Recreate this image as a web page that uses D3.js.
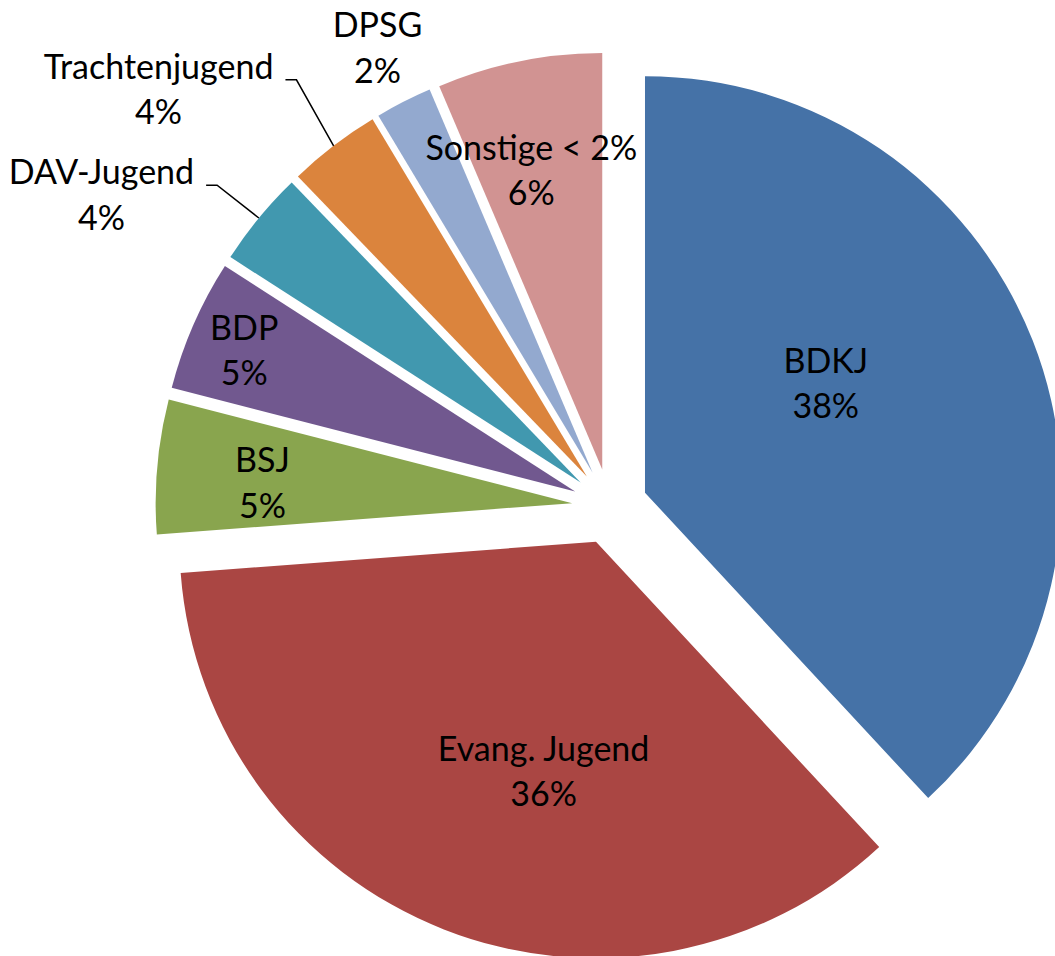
<!DOCTYPE html>
<html><head><meta charset="utf-8">
<script src="https://cdn.jsdelivr.net/npm/d3@7"></script>
<style>html,body{margin:0;padding:0;background:#fff;overflow:hidden}</style>
</head><body>
<svg id="chart" width="1055" height="956"></svg>
<script>
const categories = ["BDKJ", "Evang. Jugend", "BSJ", "BDP", "DAV-Jugend", "Trachtenjugend", "DPSG", "Sonstige < 2%"];
const shares = [38.1, 35.7, 5.2, 5.1, 3.7, 3.6, 2.2, 6.4];
const colors = ["#4572A7", "#AA4643", "#89A54E", "#71588F", "#4198AF", "#DB843D", "#93A9CF", "#D19392"];
// label layout: angular offset from slice middle (deg) and distance as fraction of radius
const labelAngleOffset = [-9.5, -8.6, -1.4, -0.6, -8.5, -10.5, 0.1, -1.85];
const labelRadius = [0.506, 0.567, 0.745, 0.863, 1.341, 1.385, 1.142, 0.736];
const hasLeader = [false, false, false, false, true, true, false, false];

const W = 1055, H = 956;
const cx = 609.8, cy = 506.5, R = 416.5, explode = 37.8;
const fontSize = 34, lineGap = 45.3;

const svg = d3.select("#chart");
svg.append("rect").attr("width", W).attr("height", H).attr("fill", "#fff");

const total = d3.sum(shares);
const pie = d3.pie().sort(null).value(d => d).startAngle(0).endAngle(2 * Math.PI);
const arcs = pie(shares);
const arc = d3.arc().innerRadius(0).outerRadius(R);

arcs.forEach((a, i) => {
  const mid = (a.startAngle + a.endAngle) / 2;
  a.ax = cx + explode * Math.sin(mid);
  a.ay = cy - explode * Math.cos(mid);
  a.mid = mid;
});

svg.append("g").selectAll("path.slice").data(arcs).join("path")
  .attr("class", "slice")
  .attr("d", arc)
  .attr("transform", d => `translate(${d.ax},${d.ay})`)
  .attr("fill", (d, i) => colors[i]);

const labels = svg.append("g")
  .attr("font-family", "Lato, 'Open Sans', sans-serif")
  .attr("font-size", fontSize)
  .attr("fill", "#000");

const pct = v => Math.round(+(v * 100 / total).toFixed(6)) + "%";

arcs.forEach((a, i) => {
  const ang = a.mid + labelAngleOffset[i] * Math.PI / 180;
  const dist = R * labelRadius[i];
  const px = a.ax + dist * Math.sin(ang);
  const py = a.ay - dist * Math.cos(ang);
  const b1 = py - lineGap / 2 + fontSize * 0.335;
  const t = labels.append("text").attr("text-anchor", "middle");
  t.append("tspan").attr("x", px).attr("y", b1).text(categories[i]);
  t.append("tspan").attr("x", px).attr("y", b1 + lineGap).text(pct(shares[i]));
  if (hasLeader[i]) {
    const w = t.node().getBBox().width;
    const x0 = px + w / 2 + 12, y0 = b1 + 1;
    const ex = a.ax + R * Math.sin(a.mid), ey = a.ay - R * Math.cos(a.mid);
    svg.append("path")
      .attr("d", d3.line()([[x0, y0], [x0 + 11, y0], [ex, ey]]))
      .attr("fill", "none").attr("stroke", "#000").attr("stroke-width", 1.5);
  }
});
</script>
</body></html>
